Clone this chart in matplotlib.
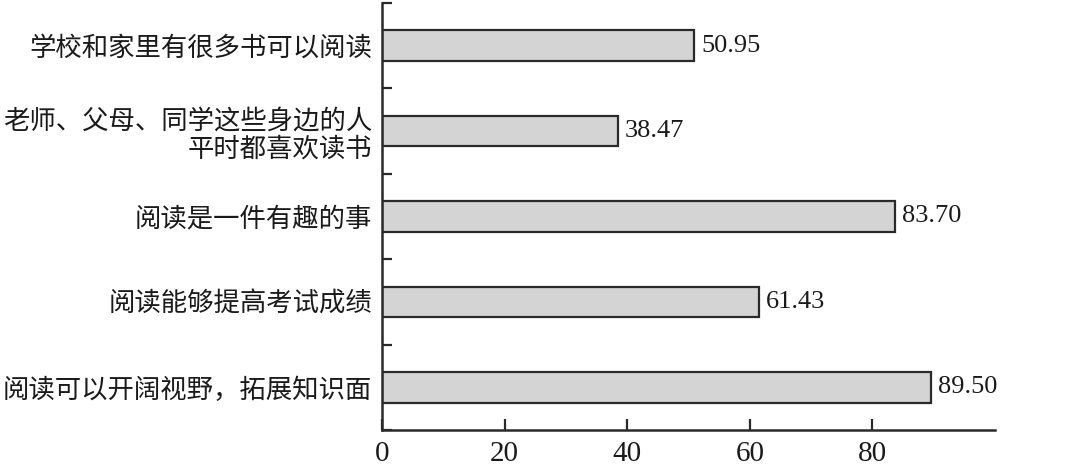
import matplotlib.pyplot as plt
import numpy as np

plt.rcParams['font.family'] = ['Liberation Serif', 'Noto Sans CJK SC', 'DejaVu Sans']

labels = ["学校和家里有很多书可以阅读",
          "老师、父母、同学这些身边的人\n平时都喜欢读书",
          "阅读是一件有趣的事",
          "阅读能够提高考试成绩",
          "阅读可以开阔视野，拓展知识面"]
values = [50.95, 38.47, 83.70, 61.43, 89.50]
xticks = [0, 20, 40, 60, 80]

fig = plt.figure(figsize=(10.8, 4.69), dpi=100)
ax = fig.add_axes([0.3537, 0.0832, 0.5676, 0.9104])

y = np.arange(len(labels))
ax.barh(y, values, height=0.36, color='#d4d4d4', edgecolor='#2a2a2a', linewidth=1.6)

for yi, v in zip(y, values):
    ax.text(v + 1.2, yi, f"{v:.2f}", va='center', ha='left', fontsize=19, color='#1a1a1a')

ax.set_xlim(0, 100)
ax.set_ylim(len(labels) - 0.5, -0.5)

ax.set_yticks(y)
ax.set_yticklabels(labels, fontsize=19, linespacing=1.15, color='#1a1a1a')
ax.tick_params(axis='y', which='major', length=0, pad=7)
ax.set_yticks(np.arange(-0.5, len(labels), 1.0), minor=True)
ax.tick_params(axis='y', which='minor', direction='in', length=7, width=1.6, color='#2a2a2a')

ax.set_xticks(xticks)
ax.tick_params(axis='x', direction='in', length=8, width=1.6, color='#2a2a2a',
               labelsize=21, pad=8, labelcolor='#1a1a1a')

for s in ['top', 'right']:
    ax.spines[s].set_visible(False)
for s in ['left', 'bottom']:
    ax.spines[s].set_linewidth(1.8)
    ax.spines[s].set_color('#2a2a2a')

fig.savefig("out.png", dpi=100)
